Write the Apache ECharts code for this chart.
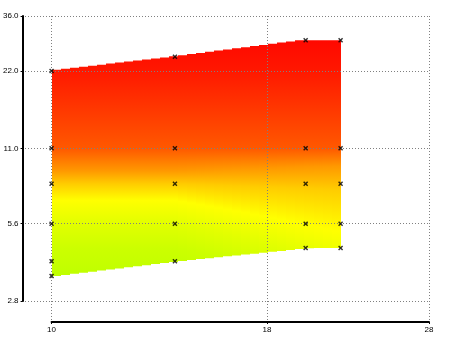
<!DOCTYPE html>
<html>
<head>
<meta charset="utf-8">
<style>
html, body { margin: 0; padding: 0; background: #fff; }
#main { width: 450px; height: 337px; }
</style>
<script src="https://cdn.jsdelivr.net/npm/echarts@6/dist/echarts.min.js"></script>
</head>
<body>
<div id="main"></div>
<script>
// band nodes: x, upper edge, lower edge
var xNodes = [10, 14, 20, 22];
var upperEdge = [22, 25, 29, 29];
var lowerEdge = [3.5, 4.0, 4.5, 4.5];

// cross markers
var markerPoints = [
    [10, 22], [10, 11], [10, 8], [10, 5.6], [10, 4.0], [10, 3.5],
    [14, 25], [14, 11], [14, 8], [14, 5.6], [14, 4.0],
    [20, 29], [20, 11], [20, 8], [20, 5.6], [20, 4.5],
    [22, 29], [22, 11], [22, 8], [22, 5.6], [22, 4.5]
];

// ticks
var xTicks = [10, 18, 28];
var yTicks = [2.8, 5.6, 11.0, 22.0, 36.0];
var yTickLabels = ['2.8', '5.6', '11.0', '22.0', '36.0'];

// colour ramp (value of each stop, left side and right side of the band)
var rampColors = ['#ff0800', '#ff1800', '#ff5800', '#ff9800', '#ffcc00', '#ffff00', '#e2ff00', '#ccff00', '#bfff00'];
var rampLeft = [29, 22, 11, 9.0, 8.0, 6.9, 5.6, 4.5, 3.5];
var rampRight = [29, 22, 11, 9.4, 7.6, 5.2, 3.9, 3.2, 2.8];

var lg = function (v) { return Math.log(v) / Math.LN10; };

// the outer grid reaches a bit below / left of the tick range (detached axes)
var xFullMin = lg(10) - 29 / (378 / (lg(28) - lg(10)));
var yFullMin = lg(2.8) - 21 / (285 / (lg(36) - lg(2.8)));

var labelFont = {fontSize: 8, color: '#000', fontFamily: 'Liberation Sans, Arial, sans-serif'};

var renderBand = function (params, api) {
    var pts = xNodes.map(function (x, i) {
        var a = api.coord([lg(x), lg(upperEdge[i])]);
        var b = api.coord([lg(x), lg(lowerEdge[i])]);
        return {x: a[0], top: a[1], bottom: b[1]};
    });
    var edgeAt = function (px, key) {
        for (var i = 0; i < pts.length - 1; i++) {
            if (px <= pts[i + 1].x + 1e-6) {
                var f = (px - pts[i].x) / (pts[i + 1].x - pts[i].x);
                return pts[i][key] + f * (pts[i + 1][key] - pts[i][key]);
            }
        }
        return pts[pts.length - 1][key];
    };
    var x0 = pts[0].x, x1 = pts[pts.length - 1].x;
    var n = Math.round((x1 - x0) / 9);
    var w = (x1 - x0) / n;
    var children = [];
    for (var k = 0; k < n; k++) {
        var sx = Math.round(x0 + k * w), ex = Math.round(x0 + (k + 1) * w);
        var top = Math.min(edgeAt(sx, 'top'), edgeAt(ex, 'top'));
        var bot = Math.max(edgeAt(sx, 'bottom'), edgeAt(ex, 'bottom'));
        var t = ((sx + ex) / 2 - pts[1].x) / (x1 - pts[1].x);
        t = Math.max(0, Math.min(1, t));
        var ys = rampColors.map(function (c, i) {
            var v = rampLeft[i] * (1 - t) + rampRight[i] * t;
            return api.coord([lg(xNodes[0]), lg(v)])[1];
        });
        var g0 = ys[0], g1 = ys[ys.length - 1];
        var stops = rampColors.map(function (c, i) {
            return {offset: (ys[i] - g0) / (g1 - g0), color: c};
        });
        children.push({
            type: 'rect',
            shape: {x: sx, y: top, width: ex - sx, height: bot - top},
            style: {fill: new echarts.graphic.LinearGradient(0, g0, 0, g1, stops, true)}
        });
    }
    return {type: 'group', children: children};
};

var nearestLabel = function (v) {
    var best = 0;
    for (var i = 1; i < yTicks.length; i++) {
        if (Math.abs(lg(yTicks[i]) - v) < Math.abs(lg(yTicks[best]) - v)) best = i;
    }
    return yTickLabels[best];
};

var gridLine = {show: true, lineStyle: {color: '#808080', type: [1, 2], width: 1}};

var option = {
    animation: false,
    grid: [
        {left: 22, right: 21, top: 16, bottom: 15},
        {left: 51, right: 21, top: 16, bottom: 36}
    ],
    xAxis: [
        {
            gridIndex: 0, type: 'value', min: xFullMin, max: lg(28),
            axisLine: {show: false},
            axisTick: {show: false, customValues: xTicks.map(lg)},
            axisLabel: {show: false},
            splitLine: gridLine
        },
        {
            gridIndex: 1, type: 'value', min: lg(10), max: lg(28), offset: 21,
            axisLine: {show: true, onZero: false, lineStyle: {color: '#000', width: 2}},
            axisTick: {show: true, length: 2, customValues: xTicks.map(lg), lineStyle: {color: '#000'}},
            axisLabel: Object.assign({
                customValues: xTicks.map(lg), margin: 4,
                formatter: function (v) { return String(Math.round(Math.pow(10, v))); }
            }, labelFont),
            splitLine: {show: false}
        }
    ],
    yAxis: [
        {
            gridIndex: 0, type: 'value', min: yFullMin, max: lg(36),
            axisLine: {show: false},
            axisTick: {show: false, customValues: yTicks.map(lg)},
            axisLabel: {show: false},
            splitLine: gridLine
        },
        {
            gridIndex: 1, type: 'value', min: lg(2.8), max: lg(36), offset: 29,
            axisLine: {show: true, onZero: false, lineStyle: {color: '#000', width: 2}},
            axisTick: {show: true, length: 2, customValues: yTicks.map(lg), lineStyle: {color: '#000'}},
            axisLabel: Object.assign({
                customValues: yTicks.map(lg), margin: 4,
                formatter: nearestLabel
            }, labelFont),
            splitLine: {show: false}
        }
    ],
    series: [
        {
            type: 'custom',
            xAxisIndex: 1, yAxisIndex: 1,
            z: -1,
            clip: false,
            silent: true,
            renderItem: renderBand,
            data: [[lg(xNodes[0]), lg(upperEdge[0])]]
        },
        {
            type: 'scatter',
            xAxisIndex: 1, yAxisIndex: 1,
            z: 5,
            silent: true,
            symbol: 'path://M0,2L2,0L5,3L8,0L10,2L7,5L10,8L8,10L5,7L2,10L0,8L3,5Z',
            symbolSize: 5,
            itemStyle: {color: '#000'},
            data: markerPoints.map(function (p) { return [lg(p[0]), lg(p[1])]; })
        }
    ]
};

var chart = echarts.init(document.getElementById('main'));
chart.setOption(option);
</script>
</body>
</html>
